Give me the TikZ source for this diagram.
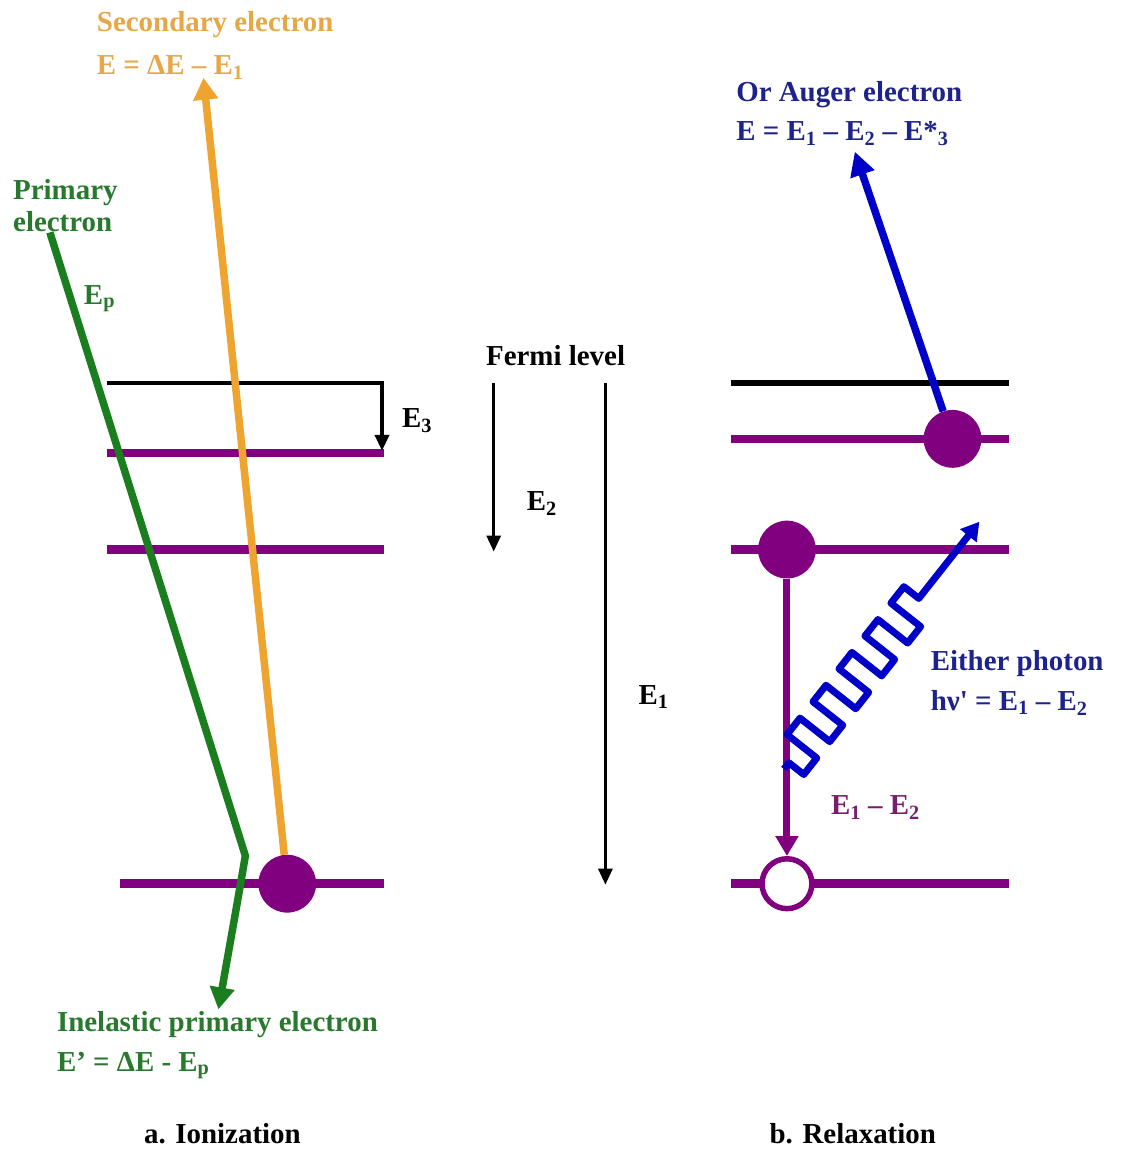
\documentclass[tikz,border=0pt]{standalone}
\usepackage{fontspec}
\setmainfont{Liberation Serif}
\usetikzlibrary{arrows.meta}
\definecolor{lvl}{RGB}{128,0,128}
\definecolor{org}{RGB}{240,164,48}
\definecolor{orgtxt}{RGB}{230,168,70}
\definecolor{grn}{RGB}{26,125,30}
\definecolor{grntxt}{RGB}{40,120,45}
\definecolor{blu}{RGB}{0,0,200}
\definecolor{blutxt}{RGB}{30,35,140}
\definecolor{purtxt}{RGB}{120,30,110}
\begin{document}
\begin{tikzpicture}[x=1pt,y=-1pt,
  lbl/.style={inner sep=0pt, anchor=west, font=\fontsize{29}{33}\selectfont\bfseries, text height=20pt, text depth=6pt},
  lvline/.style={draw=lvl, line width=8.5pt},
  fermiline/.style={draw=black, line width=6pt},
  thinarrow/.style={draw=black, line width=3pt, line join=miter, -{Triangle[length=16pt,width=14pt]}},
  fatarrow/.style={line width=7.5pt, line join=round, -{Triangle[length=22pt,width=24pt]}},
  electron/.style={circle, fill=lvl, minimum size=58pt, inner sep=0pt},
  hole/.style={circle, draw=lvl, fill=white, line width=5.5pt, minimum size=50pt, inner sep=0pt}
]
\fill[white] (0,0) rectangle (1124,1149);

% ---------- left panel: levels ----------
\coordinate (lfA) at (107,384);
\coordinate (lfB) at (383,384);
\coordinate (lfC) at (383,452);
\draw[lvline] (107,454) -- (385,454);
\draw[lvline] (107,551) -- (385,551);
\draw[lvline] (120,886) -- (385,886);
\draw[thinarrow, line width=4.5pt] (lfA) -- (lfB) -- (lfC);

\node[electron] (ce) at (288,886) {};

% secondary electron (orange)
\coordinate (sec) at (204,78);
\draw[fatarrow, draw=org] (ce) -- (sec);

% primary electron (green)
\coordinate (pr0) at (50,233);
\coordinate (pr1) at (246,858);
\coordinate (pr2) at (219,1012);
\draw[fatarrow, draw=grn] (pr0) -- (pr1) .. controls (238,905) and (229,955) .. (pr2);

% labels left
\node[lbl, text=orgtxt] (tsec) at (97,25) {Secondary electron};
\node[lbl, text=orgtxt] (tseE) at (97,68) {E = ΔE – E\textsubscript{1}};
\node[lbl, text=grntxt] (tpr1) at (13,193) {Primary};
\node[lbl, text=grntxt] (tpr2) at (13,225) {electron};
\node[lbl, text=grntxt] (tEp) at (84,298) {E\textsubscript{p}};
\node[lbl, text=grntxt] (tin1) at (57,1027) {Inelastic primary electron};
\node[lbl, text=grntxt] (tin2) at (57,1067) {E’ = ΔE - E\textsubscript{p}};
\node[lbl, anchor=center] (ta) at (223,1139) {a. Ionization};
\node[lbl] (tE3) at (403,422) {E\textsubscript{3}};

% ---------- middle ----------
\node[lbl, anchor=center] (tfermi) at (557,359) {Fermi level};
\coordinate (e2a) at (495,384);
\coordinate (e2b) at (495,553);
\coordinate (e1a) at (607,384);
\coordinate (e1b) at (607,887);
\draw[thinarrow] (e2a) -- (e2b);
\draw[thinarrow] (e1a) -- (e1b);
\node[lbl] (tE2) at (528,505) {E\textsubscript{2}};
\node[lbl] (tE1) at (640,699) {E\textsubscript{1}};

% ---------- right panel ----------
\draw[fermiline] (733,384) -- (1012,384);
\draw[lvline] (733,440) -- (1012,440);
\draw[lvline] (733,551) -- (1012,551);
\draw[lvline] (733,886) -- (1012,886);

\node[electron] (c3) at (955,440) {};
\node[electron] (c2) at (789,551) {};
\node[hole] (c1) at (789,886) {};

% relaxation arrow
\draw[draw=lvl, line width=7pt, -{Triangle[length=20pt,width=22pt]}] (c2) -- (c1);

% Auger electron
\coordinate (aug) at (857,152);
\draw[fatarrow, draw=blu, -{Triangle[length=24pt,width=24pt]}] (c3) -- (aug);

% photon
\coordinate (ph0) at (786,771);
\coordinate (ph1) at (982,523);
\begin{scope}[shift={(ph0)}, rotate=51.68]
\draw[draw=blu, line width=7pt, line join=round, -{Triangle[length=18pt,width=20pt]}]
  (0,0) -- (8,0)
  \foreach \k in {1,...,5} { -- ++(0,19) -- ++(21,0) -- ++(0,-38) -- ++(21,0) -- ++(0,19) }
  -- (ph1);
\end{scope}

% labels right
\node[lbl, text=blutxt] (tau1) at (738,95) {Or Auger electron};
\node[lbl, text=blutxt] (tau2) at (738,134) {E = E\textsubscript{1} – E\textsubscript{2} – E*\textsubscript{3}};
\node[lbl, text=blutxt] (tph1) at (933,665) {Either photon};
\node[lbl, text=blutxt] (tph2) at (933,705) {hν\textquotesingle{} = E\textsubscript{1} – E\textsubscript{2}};
\node[lbl, text=purtxt] (tdE) at (833,810) {E\textsubscript{1} – E\textsubscript{2}};
\node[lbl, anchor=center] (tb) at (855,1139) {b. Relaxation};
\end{tikzpicture}
\end{document}
